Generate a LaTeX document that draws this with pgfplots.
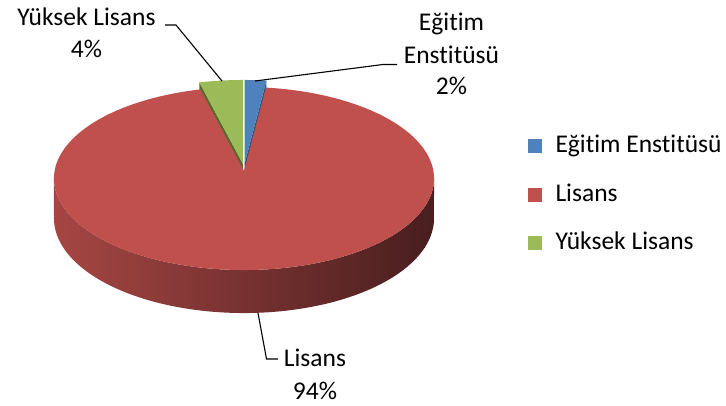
\documentclass[border=0pt]{standalone}
\usepackage{pgfplots}
\pgfplotsset{compat=1.18}
\usepackage{fontspec}
\setmainfont{Carlito}[Ligatures=NoCommon]
\definecolor{cBlue}{RGB}{79,129,189}
\definecolor{cRed}{RGB}{192,80,77}
\definecolor{cGreen}{RGB}{155,187,89}
\definecolor{cGreenD}{RGB}{88,105,45}
\definecolor{cBlueD}{RGB}{48,82,122}
\definecolor{sL}{RGB}{166,70,67}
\definecolor{sM}{RGB}{118,48,47}
\definecolor{sR}{RGB}{72,30,30}
\pgfkeys{/pgf/declare function={
  px(\t)=244+189.4*cos(\t)/(1+0.082*sin(\t));
  py(\t)=171-90.9*sin(\t)/(1+0.082*sin(\t));
  pd(\t)=39.5/(1+0.082*sin(\t));
  th(\t)=(\t<=1)*(184.7+170.6*\t)+(\t>1)*(355.3-170.6*(\t-1));
}}
% data (percent)
\pgfmathsetmacro{\vA}{2}  % Eğitim Enstitüsü
\pgfmathsetmacro{\vB}{94} % Lisans
\pgfmathsetmacro{\vC}{4}  % Yüksek Lisans
\pgfmathsetmacro{\aA}{90}
\pgfmathsetmacro{\aB}{\aA-3.6*\vA}
\pgfmathsetmacro{\aC}{\aB-3.6*\vB}
\pgfmathsetmacro{\aD}{\aC-3.6*\vC}
% exploded slices geometry
\pgfmathsetmacro{\gx}{px(\aC)-1}
\pgfmathsetmacro{\gy}{py(\aC)-7}
\pgfmathsetmacro{\gyb}{\gy+pd(\aC)}
\pgfmathsetmacro{\bx}{px(\aB)+0.5}
\pgfmathsetmacro{\by}{py(\aB)-7}
\pgfmathsetmacro{\byb}{\by+pd(\aB)}
\begin{document}%
\begin{tikzpicture}[font=\fontsize{25.5}{31}\selectfont]
\begin{axis}[
  hide axis, scale only axis,
  width=726pt, height=406pt,
  xmin=0, xmax=726, ymin=0, ymax=406, y dir=reverse,
  clip=false,
  every node/.append style={inner sep=0pt},
]
\addplot[draw=none] coordinates {(0,0) (726,406)};
% side wall of the pie
\addplot[draw=none, left color=sL, middle color=sM, right color=sR,
  domain=0:2, samples=201, variable=\t]
  ({px(th(\t))},{py(th(\t))+(\t>1)*pd(th(\t))}) -- cycle;
% radial faces of the exploded slices
\addplot[fill=cGreenD, draw=none] coordinates {(\gx,\gy) (\gx,\gyb) (243,203.5) (243,164)} -- cycle;
\addplot[fill=cBlueD, draw=none] coordinates {(\bx,\by) (\bx,\byb) (244.5,203.5) (244.5,164)} -- cycle;
% Lisans top face
\addplot[fill=cRed, draw=none, domain=\aC:\aB, samples=300, variable=\t]
  ({px(\t)},{py(\t)}) -- (axis cs:244,171) -- cycle;
% Yüksek Lisans top face
\addplot[fill=cGreen, draw=none, domain=\aD:\aC, samples=30, variable=\t]
  ({px(\t)-1},{py(\t)-7}) -- (axis cs:243,164) -- cycle;
% Eğitim Enstitüsü top face
\addplot[fill=cBlue, draw=none, domain=\aB:\aA, samples=20, variable=\t]
  ({px(\t)+0.5},{py(\t)-7}) -- (axis cs:244.5,164) -- cycle;
% leader lines
\addplot[black, line width=1.1pt] coordinates {(165,25) (176,25) (222,81)};
\addplot[black, line width=1.1pt] coordinates {(255,81) (383,64.5) (397,64.5)};
\addplot[black, line width=1.1pt] coordinates {(258,313) (266.5,359) (278,359)};
% data labels
\node[anchor=base] at (axis cs:86.5,26) {Yüksek Lisans};
\node[anchor=base] at (axis cs:86.5,58) {4\%};
\node[anchor=base] at (axis cs:451.5,31) {Eğitim};
\node[anchor=base] at (axis cs:451.5,63.5) {Enstitüsü};
\node[anchor=base] at (axis cs:451.5,94.5) {2\%};
\node[anchor=base] at (axis cs:315,366.5) {Lisans};
\node[anchor=base] at (axis cs:315,399) {94\%};
% legend
\addplot[fill=cBlue, draw=none] coordinates {(528,139) (542,139) (542,153) (528,153)} -- cycle;
\addplot[fill=cRed, draw=none] coordinates {(528,188) (542,188) (542,202) (528,202)} -- cycle;
\addplot[fill=cGreen, draw=none] coordinates {(528,236) (542,236) (542,250) (528,250)} -- cycle;
\node[anchor=base west] at (axis cs:552,153) {Eğitim Enstitüsü};
\node[anchor=base west] at (axis cs:552,202) {Lisans};
\node[anchor=base west] at (axis cs:552,250) {Yüksek Lisans};
\end{axis}
\end{tikzpicture}%
\end{document}
